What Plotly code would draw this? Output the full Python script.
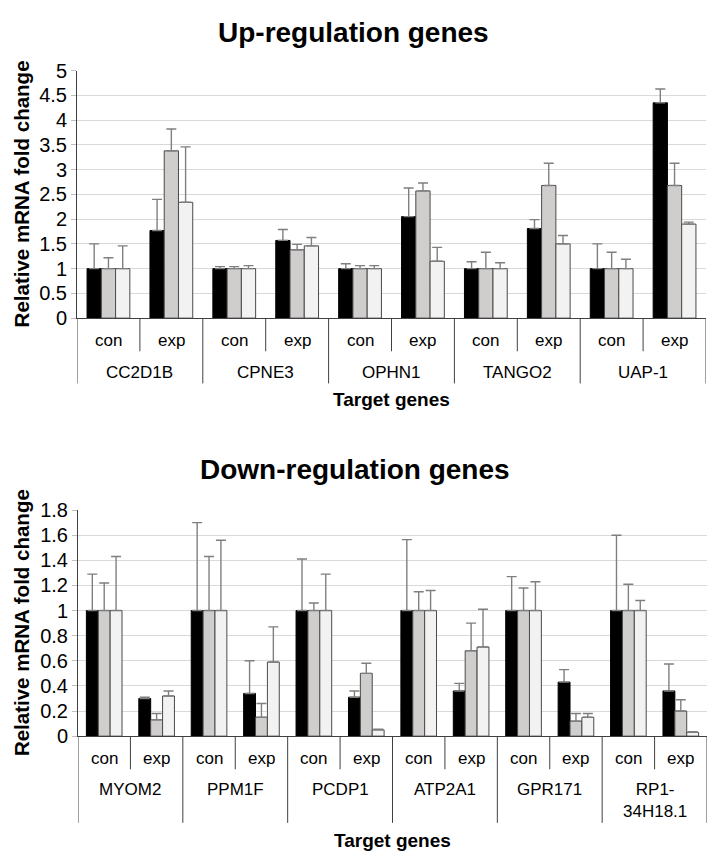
import plotly.graph_objects as go

# page offset of the plot div (default body margin)
OFF = 8
W, H = 721 - OFF, 867 - OFF
FONT = "Liberation Sans, Arial, sans-serif"

# ---------------- data ----------------
up_genes = ["CC2D1B", "CPNE3", "OPHN1", "TANGO2", "UAP-1"]
down_genes = ["MYOM2", "PPM1F", "PCDP1", "ATP2A1", "GPR171", "RP1-<br>34H18.1"]
conditions = ["con", "exp"]

up_s1 = [1, 1.77, 1, 1.57, 1, 2.05, 1, 1.81, 1, 4.35]
up_s1_err = [0.50, 0.63, 0.04, 0.22, 0.10, 0.58, 0.14, 0.18, 0.50, 0.28]
up_s2 = [1, 3.38, 1, 1.38, 1, 2.57, 1, 2.68, 1, 2.68]
up_s2_err = [0.22, 0.44, 0.04, 0.11, 0.06, 0.16, 0.33, 0.45, 0.33, 0.45]
up_s3 = [1, 2.34, 1, 1.46, 1, 1.15, 1, 1.50, 1, 1.90]
up_s3_err = [0.46, 1.12, 0.06, 0.17, 0.06, 0.28, 0.12, 0.17, 0.19, 0.04]

down_s1 = [1, 0.30, 1, 0.34, 1, 0.31, 1, 0.36, 1, 0.43, 1, 0.36]
down_s1_err = [0.29, 0.01, 0.70, 0.26, 0.41, 0.05, 0.565, 0.06, 0.27, 0.10, 0.60, 0.215]
down_s2 = [1, 0.13, 1, 0.15, 1, 0.50, 1, 0.68, 1, 0.12, 1, 0.20]
down_s2_err = [0.22, 0.05, 0.43, 0.11, 0.06, 0.08, 0.15, 0.22, 0.18, 0.06, 0.21, 0.09]
down_s3 = [1, 0.32, 1, 0.59, 1, 0.05, 1, 0.71, 1, 0.15, 1, 0.03]
down_s3_err = [0.43, 0.04, 0.56, 0.28, 0.29, 0.005, 0.16, 0.30, 0.23, 0.03, 0.08, 0.005]

up_ticks = [0, 0.5, 1, 1.5, 2, 2.5, 3, 3.5, 4, 4.5, 5]
down_ticks = [0, 0.2, 0.4, 0.6, 0.8, 1, 1.2, 1.4, 1.6, 1.8]

# ---------------- styles ----------------
fills = ["#000000", "#d0cdcd", "#f2f2f2"]
outlines = ["#000000", "#4a4a4a", "#4a4a4a"]
err_color = "#7f7f7f"
axis_color = "#404040"
grid_color = "#d9d9d9"


def py(p):
    return (H - (p - OFF)) / H


def px(p):
    return (p - OFF) / W


fig = go.Figure()


def add_series(values, errs, xa, ya):
    n = len(values[0])
    xs = list(range(n))
    for k in range(3):
        fig.add_trace(go.Bar(
            x=xs, y=values[k], xaxis=xa, yaxis=ya,
            marker=dict(color=fills[k], line=dict(color=outlines[k], width=1)),
            error_y=dict(type="data", symmetric=False, array=errs[k],
                         arrayminus=[0] * n, color=err_color, thickness=1.4, width=5),
            showlegend=False, offsetgroup=str(k),
        ))


add_series([up_s1, up_s2, up_s3], [up_s1_err, up_s2_err, up_s3_err], "x", "y")
add_series([down_s1, down_s2, down_s3], [down_s1_err, down_s2_err, down_s3_err], "x2", "y2")

# plot geometry in page pixels
top = dict(x0=77, x1=706, y0=61, y1=315)
bot = dict(x0=78, x1=707, y0=512, y1=744)

axis_common = dict(showgrid=False, zeroline=False, showticklabels=False,
                   showline=True, linecolor=axis_color, linewidth=1, ticks="")
ycommon = dict(showgrid=True, gridcolor=grid_color, gridwidth=1, zeroline=False,
               showline=True, linecolor=axis_color, linewidth=1, ticks="outside",
               ticklen=5, tickcolor="#bfbfbf",
               tickfont=dict(family=FONT, size=20, color="#000000"))

fig.update_layout(
    width=W, height=H, margin=dict(l=0, r=0, t=0, b=0),
    paper_bgcolor="white", plot_bgcolor="white",
    barmode="group", bargap=0.32, bargroupgap=0,
    xaxis=dict(domain=[px(top["x0"]), px(top["x1"])], range=[-0.5, len(up_s1) - 0.5],
               anchor="y", **axis_common),
    yaxis=dict(domain=[py(top["y1"]), py(top["y0"])], range=[0, 5],
               tickvals=up_ticks, anchor="x", **ycommon),
    xaxis2=dict(domain=[px(bot["x0"]), px(bot["x1"])], range=[-0.5, len(down_s1) - 0.5],
                anchor="y2", **axis_common),
    yaxis2=dict(domain=[py(bot["y1"]), py(bot["y0"])], range=[0, 1.8],
                tickvals=down_ticks, anchor="x2", **ycommon),
    font=dict(family=FONT, color="#000000"),
)

annotations = []
shapes = []


def category_axis(genes, xref, g, cond_y, cond_sep, gene_y, gene_sep, title_y, gene_anchor_top=False):
    n = len(genes) * 2
    for i in range(n):
        annotations.append(dict(x=i, y=py(cond_y), xref=xref, yref="paper",
                                text=conditions[i % 2], showarrow=False,
                                font=dict(family=FONT, size=17, color="#000000"),
                                xanchor="center", yanchor="middle"))
    for j, gname in enumerate(genes):
        annotations.append(dict(x=2 * j + 0.5, y=py(gene_y), xref=xref, yref="paper",
                                text=gname, showarrow=False,
                                font=dict(family=FONT, size=17, color="#000000"),
                                xanchor="center", yanchor="top" if gene_anchor_top else "middle"))
    for b in range(n + 1):
        x = b - 0.5
        bottom = gene_sep if b % 2 == 0 else cond_sep
        shapes.append(dict(type="line", xref=xref, yref="paper", x0=x, x1=x,
                           y0=py(g["y1"]), y1=py(bottom),
                           line=dict(color=axis_color, width=1)))
    annotations.append(dict(x=px((g["x0"] + g["x1"]) / 2), y=py(title_y), xref="paper", yref="paper",
                            text="<b>Target genes</b>", showarrow=False,
                            font=dict(family=FONT, size=19, color="#000000"),
                            xanchor="center", yanchor="middle"))
    annotations.append(dict(x=px(21), y=py((g["y0"] + g["y1"]) / 2), xref="paper", yref="paper",
                            text="<b>Relative mRNA fold change</b>", showarrow=False,
                            textangle=-90,
                            font=dict(family=FONT, size=20.5, color="#000000"),
                            xanchor="center", yanchor="middle"))


category_axis(up_genes, "x", top, 338, 349, 371, 382, 398)
category_axis(down_genes, "x2", bot, 767, 778, 787, 833, 851, gene_anchor_top=True)

annotations.append(dict(x=px(353), y=py(22), xref="paper", yref="paper",
                        text="<b>Up-regulation genes</b>", showarrow=False,
                        font=dict(family=FONT, size=28, color="#000000"),
                        xanchor="center", yanchor="middle"))
annotations.append(dict(x=px(355), y=py(470), xref="paper", yref="paper",
                        text="<b>Down-regulation genes</b>", showarrow=False,
                        font=dict(family=FONT, size=28, color="#000000"),
                        xanchor="center", yanchor="middle"))

fig.update_layout(annotations=annotations, shapes=shapes)
fig.write_html("out.html")
